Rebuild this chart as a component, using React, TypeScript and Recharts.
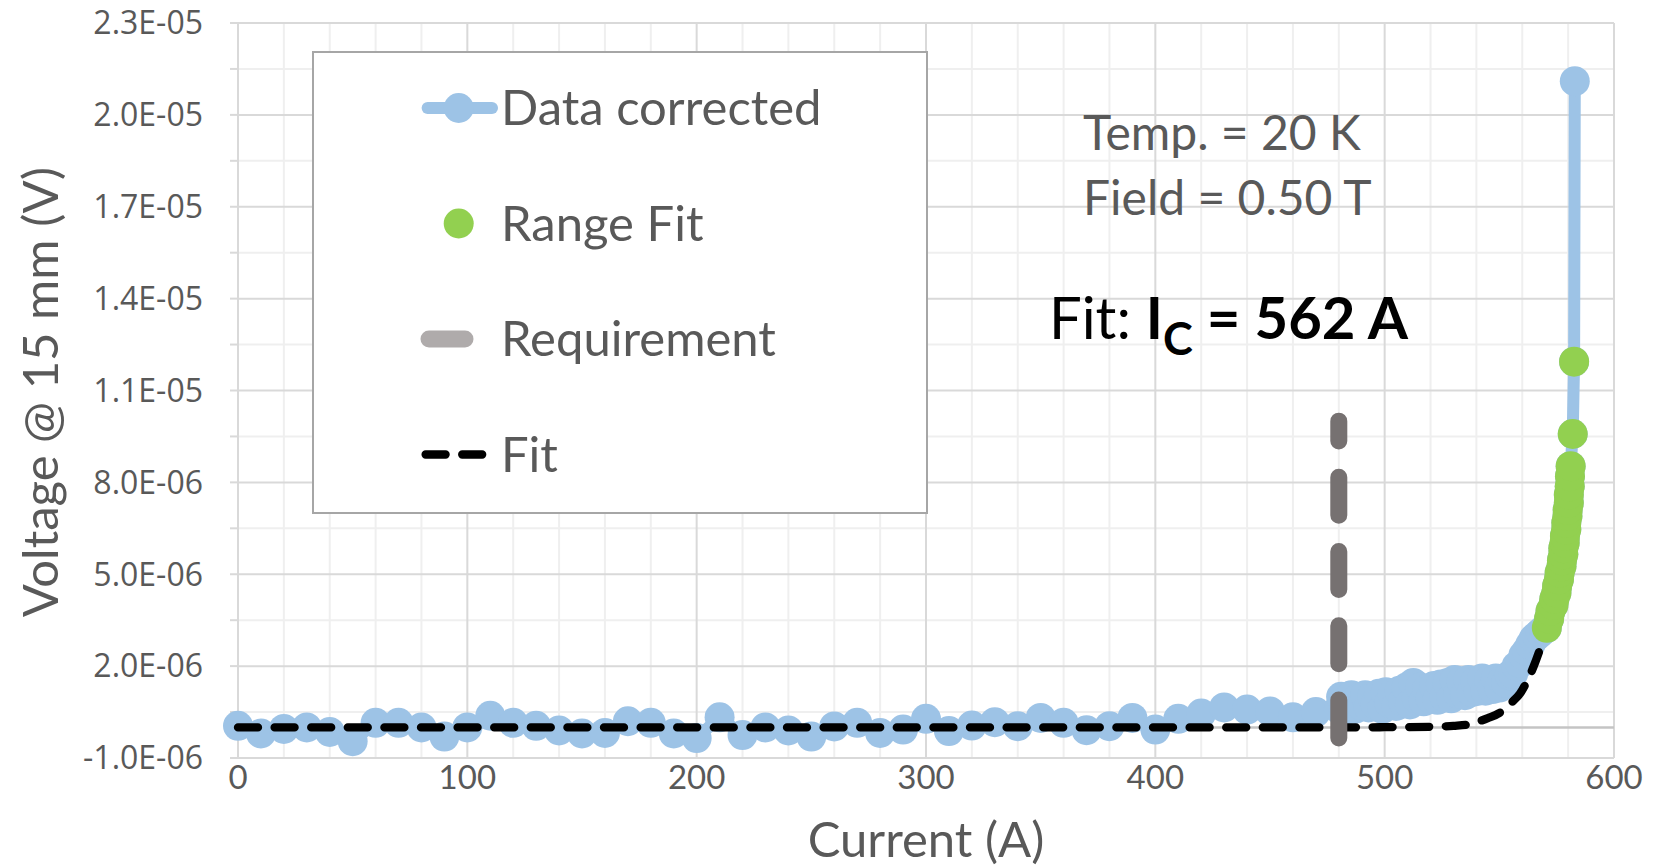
import React from 'react';
import { ComposedChart, Line, Scatter, XAxis, YAxis, CartesianGrid, Legend } from 'recharts';

// Current in A, voltage in units of 1E-06 V
const dataCurrent = [
  0, 10, 20, 30, 40, 50, 60, 70, 80, 90, 100, 110, 120, 130, 140, 150, 160, 170, 180, 190,
  200, 210, 220, 230, 240, 250, 260, 270, 280, 290, 300, 310, 320, 330, 340, 350, 360, 370, 380, 390,
  400, 410, 420, 430, 440, 450, 460, 470,
  480, 481, 482.5, 484, 485.5, 487, 488.5, 490, 491.5, 493, 494.5, 496, 497.5, 499, 500.5, 502,
  503.5, 505, 506.5, 508, 509.5, 511, 512.5, 514, 515.5, 517, 518.5, 520, 521.5, 523, 524.5, 526,
  527.5, 529, 530.5, 532, 533.5, 535, 536.5, 538, 539.5, 541, 542.5, 544, 545.5, 547, 548.5, 550,
  551.5, 553, 554.5, 556, 557.5, 559, 560.5, 562, 563.5, 565, 566.5, 568, 569.5,
];
const dataVoltage = [
  0.05, -0.2, -0.05, 0, -0.15, -0.45, 0.15, 0.15, 0, -0.3, 0, 0.38, 0.15, 0.05, -0.1, -0.2, -0.18, 0.2, 0.15, -0.2,
  -0.35, 0.33, -0.25, 0, -0.1, -0.3, 0.03, 0.15, -0.18, -0.07, 0.28, -0.12, 0.06, 0.17, 0.04, 0.31, 0.15, -0.09, 0.04, 0.31,
  -0.07, 0.28, 0.45, 0.65, 0.58, 0.52, 0.33, 0.5,
  0.6, 1.0, 0.55, 0.9, 1.05, 0.6, 0.95, 0.7, 1.05, 0.65, 1.0, 0.75, 1.1, 0.6, 1.15, 0.8,
  1.1, 0.7, 1.2, 0.85, 1.3, 0.75, 1.45, 0.95, 1.3, 0.85, 1.25, 0.95, 1.35, 0.9, 1.4, 1.0,
  1.45, 0.95, 1.55, 1.1, 1.5, 1.05, 1.55, 1.15, 1.5, 1.2, 1.6, 1.2, 1.55, 1.25, 1.6, 1.3,
  1.55, 1.45, 1.7, 1.75, 2.0, 2.1, 2.35, 2.5, 2.7, 2.9, 3.0, 3.1, 3.2,
];
const rangeCurrent = [
  570.7, 571.7, 572.3, 573.6, 574.0, 574.9, 575.2, 576.0, 576.3, 577.1, 577.3, 577.9, 577.9,
  578.5, 578.6, 579.2, 579.2, 579.7, 579.8, 580.3, 580.3, 580.7, 580.8, 581.1, 582.0, 582.6,
];
const rangeVoltage = [
  3.25, 3.55, 3.8, 4.0, 4.2, 4.4, 4.62, 4.83, 5.05, 5.26, 5.45, 5.65, 5.85,
  6.03, 6.25, 6.46, 6.68, 6.9, 7.1, 7.33, 7.6, 7.87, 8.2, 8.53, 9.58, 11.94,
];
const lastCurrent = 582.9;
const lastVoltage = 21.1;

const fitCurrent = [0, 100, 200, 300, 400, 480, 500, 520, 530, 537, 540, 545, 550, 553, 556, 559, 561, 563, 565, 567, 569, 571];
const fitVoltage = [0, 0, 0, 0, 0, 0, 0.005, 0.02, 0.05, 0.1, 0.17, 0.3, 0.47, 0.65, 0.86, 1.1, 1.35, 1.65, 2.0, 2.4, 2.85, 3.3];

const reqCurrent = [480, 480];
const reqVoltage = [-0.35, 10];

const xTicks = [0, 100, 200, 300, 400, 500, 600];
const xMinor = [20, 40, 60, 80, 120, 140, 160, 180, 220, 240, 260, 280, 320, 340, 360, 380, 420, 440, 460, 480, 520, 540, 560, 580];
const yMajor = [-1, 2, 5, 8, 11, 14, 17, 20, 23];
const yMinor = [0.5, 3.5, 6.5, 9.5, 12.5, 15.5, 18.5, 21.5];
const yTicks = [-1, 0.5, 2, 3.5, 5, 6.5, 8, 9.5, 11, 12.5, 14, 15.5, 17, 18.5, 20, 21.5, 23];

const legendNames = ['Data corrected', 'Range Fit', 'Requirement', 'Fit'];

const zip = (xs: number[], ys: number[]) => xs.map((i, k) => ({ i, v: ys[k] }));

const rangeFit = zip(rangeCurrent, rangeVoltage);
const dataCorrected = [...zip(dataCurrent, dataVoltage), ...rangeFit, { i: lastCurrent, v: lastVoltage }];
const fit = zip(fitCurrent, fitVoltage);
const requirement = zip(reqCurrent, reqVoltage);

const BLUE = '#9DC3E6';
const GREEN = '#92D050';
const TEXT = '#595959';
const CALIBRI = 'Lato, "Open Sans", sans-serif';

const sci = (v: number) => {
  const [m, e] = (v * 1e-6).toExponential(1).split('e');
  const n = parseInt(e, 10);
  return `${m}E${n < 0 ? '-' : '+'}${String(Math.abs(n)).padStart(2, '0')}`;
};

const GreenDot = (p: any) => <circle cx={p.cx} cy={p.cy} r={15} fill={GREEN} />;

const LegendBox = () => (
  <svg width={616} height={463} style={{ display: 'block' }}>
    <rect x={1} y={1} width={614} height={461} fill="#fff" stroke="#A6A6A6" strokeWidth={2} />
    {legendNames.map((name, k) => {
      const cy = 57 + k * 115.5;
      return (
        <g key={name}>
          {k === 0 && (
            <g>
              <line x1={115.6} x2={180} y1={cy} y2={cy} stroke={BLUE} strokeWidth={12} strokeLinecap="round" />
              <circle cx={146.7} cy={cy} r={15} fill={BLUE} />
            </g>
          )}
          {k === 1 && <circle cx={146.7} cy={cy} r={15} fill={GREEN} />}
          {k === 2 && (
            <line x1={117} x2={153} y1={cy} y2={cy} stroke="#AFABAB" strokeWidth={17} strokeLinecap="round" />
          )}
          {k === 3 && (
            <line x1={113.6} x2={171} y1={cy} y2={cy} stroke="#000" strokeWidth={8.3} strokeLinecap="round" strokeDasharray="20 16.6" />
          )}
          <text x={189} y={cy + 17} fontFamily={CALIBRI} fontSize={49} fill={TEXT}>
            {name}
          </text>
        </g>
      );
    })}
  </svg>
);

export default function App() {
  return (
    <div style={{ position: 'absolute', left: 0, top: 0, width: 1661, height: 868, background: '#fff' }}>
      <ComposedChart width={1661} height={868} margin={{ top: 23, right: 47, bottom: 0, left: 0 }}>
        <CartesianGrid horizontalValues={yMinor} verticalValues={xMinor} stroke="#EFEFEF" strokeWidth={2} />
        <CartesianGrid horizontalValues={yMajor} verticalValues={xTicks} stroke="#D9D9D9" strokeWidth={2} />
        <CartesianGrid horizontalValues={[0]} vertical={false} stroke="#C4C4C4" strokeWidth={2.5} />
        <XAxis
          type="number"
          dataKey="i"
          domain={[0, 600]}
          ticks={xTicks}
          interval={0}
          height={110}
          tickSize={0}
          tickMargin={8}
          tickLine={false}
          axisLine={{ stroke: '#D9D9D9', strokeWidth: 2 }}
          tick={{ fontSize: 33, fill: TEXT, fontFamily: CALIBRI }}
        />
        <YAxis
          type="number"
          dataKey="v"
          domain={[-1, 23]}
          ticks={yTicks}
          interval={0}
          width={238}
          tickSize={8}
          tickMargin={27}
          tickLine={{ stroke: '#D9D9D9', strokeWidth: 2 }}
          axisLine={{ stroke: '#D9D9D9', strokeWidth: 2 }}
          tickFormatter={(v: number) => (yMajor.includes(v) ? sci(v) : '')}
          tick={{ fontSize: 32, fill: TEXT, fontFamily: '"Open Sans", sans-serif' }}
        />

        {/* stacking as in the original: data, fit, fit range, requirement */}
        <Line
          data={dataCorrected}
          dataKey="v"
          name="Data corrected"
          type="linear"
          stroke={BLUE}
          strokeWidth={12}
          strokeLinejoin="round"
          dot={{ r: 15, fill: BLUE, stroke: 'none' }}
          activeDot={false}
          isAnimationActive={false}
          zIndex={400}
        />
        <Line
          data={fit}
          dataKey="v"
          name="Fit"
          type="monotone"
          stroke="#000"
          strokeWidth={8.3}
          strokeDasharray="20 16.6"
          strokeLinecap="round"
          dot={false}
          activeDot={false}
          isAnimationActive={false}
          zIndex={1400}
        />
        <Scatter
          data={rangeFit}
          dataKey="v"
          name="Range Fit"
          fill={GREEN}
          shape={GreenDot}
          isAnimationActive={false}
          zIndex={1500}
        />
        <Line
          data={requirement}
          dataKey="v"
          name="Requirement"
          type="linear"
          stroke="#767171"
          strokeWidth={17}
          strokeDasharray="38 36.3"
          strokeLinecap="round"
          dot={false}
          activeDot={false}
          isAnimationActive={false}
          zIndex={1700}
        />
        <Legend
          content={<LegendBox />}
          layout="vertical"
          align="center"
          verticalAlign="middle"
          wrapperStyle={{ left: 312, top: 51, width: 616, height: 463 }}
        />
      </ComposedChart>

      {/* axis titles and text boxes */}
      <svg
        width={1661}
        height={868}
        style={{ position: 'absolute', left: 0, top: 0, pointerEvents: 'none' }}
      >
        <text x={58} y={392} transform="rotate(-90, 58, 392)" textAnchor="middle" fontFamily={CALIBRI} fontSize={49} fill={TEXT}>
          Voltage @ 15 mm (V)
        </text>
        <text x={926} y={857} textAnchor="middle" fontFamily={CALIBRI} fontSize={49} fill={TEXT}>
          Current (A)
        </text>
        <text x={1083} y={150} fontFamily={CALIBRI} fontSize={48} fill={TEXT}>
          Temp. = 20 K
        </text>
        <text x={1083} y={215} fontFamily={CALIBRI} fontSize={48} fill={TEXT}>
          Field = 0.50 T
        </text>
        <text x={1049} y={339} fontFamily={CALIBRI} fontSize={58} fill="#000">
          Fit: <tspan fontWeight="bold">I</tspan>
          <tspan fontWeight="bold" fontSize={45} dy={16}>C</tspan>
          <tspan fontWeight="bold" dy={-16}> = 562 A</tspan>
        </text>
      </svg>
    </div>
  );
}
